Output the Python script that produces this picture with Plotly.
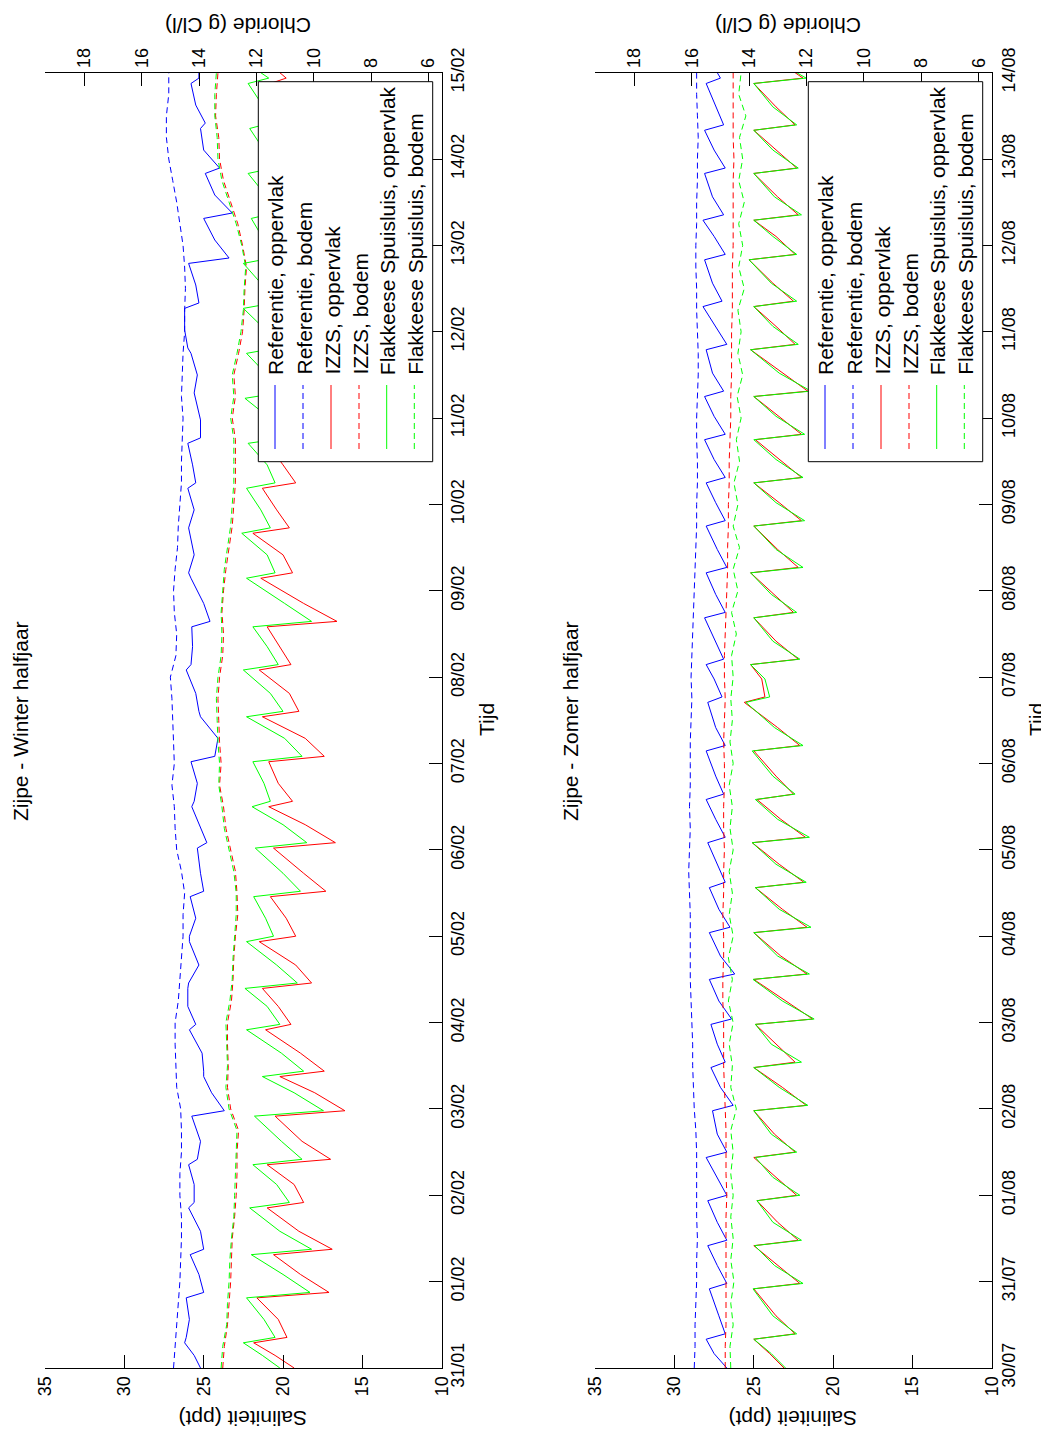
import pandas as pd
import plotly.graph_objects as go

# ---------------- DATA ----------------
w_start = "2010-01-31"
s_start = "2010-07-30"

# winter, surface series: hours since start
w_t_surf = [0, 3.5,
            7, 8.5, 13.5, 19.5, 21, 26, 31.5, 33, 38, 44.5, 46, 51, 56.5, 58, 63,
            70, 71.5, 76.5, 81, 82.5, 87.5, 94, 95.5, 100.5, 105.5, 107, 112,
            118.5, 120, 125, 131, 132.5, 137.5, 144.5, 146, 151, 156, 157.5, 162.5,
            168.5, 170, 175, 181, 182.5, 187.5, 194, 195.5, 200.5, 206, 207.5, 212.5,
            219.5, 221, 226, 232, 233.5, 238.5, 244.5, 246, 251, 257, 258.5, 263.5,
            269.5, 271, 276, 282, 283.5, 288.5, 294.5, 296, 301, 307, 308.5, 313.5,
            319.5, 321, 326, 332, 333.5, 338.5, 344.5, 346, 351, 357, 358.5, 360]
w_ref_opp = [25.2, 25.6,
             26.2, 26.1, 25.9, 26.1, 25.0, 25.3, 25.85, 25.0, 25.2, 25.95, 25.6, 25.6,
             25.95, 25.4, 25.2, 25.75, 23.7, 24.5, 25.0, 25.0, 25.1, 25.9, 25.5, 26.0,
             26.0, 25.95, 25.3, 25.9, 25.9, 25.5, 25.85, 25.0, 25.2, 25.4, 24.8, 25.3,
             25.75, 25.6, 25.4, 25.8, 24.3, 24.1, 25.2, 25.3, 25.5, 26.1, 25.8, 25.7,
             25.75, 24.6, 25.0, 25.8, 25.95, 25.6, 25.9, 25.95, 25.6, 26.0, 25.5, 25.7,
             26.0, 25.2, 25.2, 25.5, 25.6, 25.4, 25.8, 26.0, 26.2, 26.2, 25.3, 25.5,
             25.95, 23.4, 24.3, 25.0, 23.2, 24.3, 24.9, 24.0, 25.0, 25.2, 24.9, 25.5,
             25.8, 25.3, 25.3]
w_izzs_opp = [19.3, 20.5,
              21.85, 19.75, 20.3, 21.65, 17.1, 18.9, 20.6, 16.9, 19.0, 21.0, 18.7, 19.3,
              21.0, 17.0, 18.8, 20.5, 16.1, 18.0, 20.2, 17.4, 18.9, 21.1, 19.5, 20.3,
              21.3, 18.2, 19.2, 21.5, 19.2, 19.8, 20.8, 17.3, 18.7, 20.6, 16.7, 18.6,
              20.9, 19.4, 20.3, 20.9, 17.4, 18.6, 21.3, 19.0, 19.6, 21.5, 19.5, 20.2,
              21.0, 16.6, 18.7, 21.4, 19.4, 20.0, 21.9, 19.6, 20.4, 21.3, 19.2, 20.0,
              21.0, 18.5, 19.6, 21.3, 19.0, 19.9, 21.3, 19.2, 20.1, 21.4, 19.5, 20.3,
              21.5, 19.6, 20.2, 21.0, 19.5, 20.1, 21.2, 19.6, 20.2, 21.0, 19.8, 20.3,
              20.8, 19.8, 20.2]
w_flak_opp = [20.2, 21.3,
              22.5, 20.5, 21.2, 22.3, 18.3, 20.0, 22.0, 18.2, 20.2, 22.1, 19.6, 20.4,
              21.9, 18.8, 20.1, 21.8, 17.45, 19.3, 21.3, 18.7, 20.1, 22.3, 20.2, 21.0,
              22.4, 19.1, 20.4, 22.3, 20.6, 21.1, 21.85, 18.9, 20.0, 21.75, 18.5, 20.0,
              21.95, 20.8, 21.2, 21.9, 18.8, 19.9, 22.3, 20.0, 20.8, 22.5, 20.3, 21.0,
              21.9, 18.2, 19.9, 22.3, 20.5, 21.0, 22.6, 20.8, 21.4, 22.3, 20.5, 21.0,
              22.2, 19.8, 20.7, 22.4, 20.3, 21.0, 22.3, 20.4, 21.1, 22.5, 20.6, 21.3,
              22.5, 20.7, 21.2, 22.0, 20.5, 21.1, 22.2, 20.6, 21.2, 22.1, 20.8, 21.3,
              22.2, 20.9, 21.4]

# bottom series sampled every 6 hours (0 .. 360 h)
t_bod = [0, 6, 12, 18, 24, 30, 36, 42, 48, 54, 60, 66, 72, 78, 84, 90, 96, 102, 108,
         114, 120, 126, 132, 138, 144, 150, 156, 162, 168, 174, 180, 186, 192, 198,
         204, 210, 216, 222, 228, 234, 240, 246, 252, 258, 264, 270, 276, 282, 288,
         294, 300, 306, 312, 318, 324, 330, 336, 342, 348, 354, 360]
w_ref_bod = [26.9, 26.8, 26.7, 26.6, 26.5, 26.45, 26.4, 26.4, 26.5, 26.5, 26.4, 26.4,
             26.45, 26.7, 26.75, 26.8, 26.8, 26.6, 26.5, 26.4, 26.3, 26.3, 26.2, 26.4,
             26.7, 26.8, 26.85, 27.0, 26.85, 26.9, 26.95, 27.0, 27.1, 26.75, 26.7,
             26.85, 26.9, 26.8, 26.65, 26.6, 26.5, 26.4, 26.4, 26.35, 26.3, 26.4,
             26.35, 26.3, 26.2, 26.2, 26.15, 26.2, 26.3, 26.5, 26.7, 26.95, 27.2,
             27.35, 27.35, 27.2, 27.2]
w_izzs_bod = [23.8, 23.7, 23.5, 23.4, 23.3, 23.25, 23.2, 23.05, 22.95, 22.9, 22.9, 22.8,
              23.3, 23.5, 23.45, 23.5, 23.5, 23.25, 23.15, 23.1, 23.0, 22.85, 22.9, 23.0,
              23.3, 23.6, 23.75, 24.0, 23.9, 24.0, 24.05, 24.1, 24.0, 23.8, 23.75,
              23.85, 23.75, 23.6, 23.4, 23.2, 23.1, 23.0, 23.0, 23.0, 23.2, 23.0, 23.1,
              22.8, 22.55, 22.45, 22.4, 22.3, 22.55, 22.85, 23.3, 23.75, 24.0, 24.05,
              24.25, 24.2, 24.1]
w_flak_bod = [23.9, 23.8, 23.55, 23.5, 23.4, 23.35, 23.25, 23.1, 23.05, 23.0, 22.95, 22.9,
              23.4, 23.6, 23.5, 23.55, 23.6, 23.35, 23.2, 23.15, 23.05, 22.95, 22.95,
              23.1, 23.4, 23.7, 23.85, 24.05, 24.0, 24.1, 24.15, 24.2, 24.1, 23.9,
              23.85, 23.9, 23.8, 23.7, 23.5, 23.3, 23.2, 23.1, 23.1, 23.1, 23.3, 23.1,
              23.2, 22.9, 22.65, 22.5, 22.45, 22.35, 22.6, 22.95, 23.4, 23.85, 24.1,
              24.15, 24.3, 24.3, 24.2]

# summer, surface series: hours since start
s_t_surf = [0, 4,
            8, 9.5, 14.5, 22, 23.5, 28.5, 34, 35.5, 40.5, 46.5, 48, 53, 58.5, 60, 65,
            71.5, 73, 78, 83.5, 85, 90, 95.5, 97, 102, 108, 109.5, 114.5,
            121, 122.5, 127.5, 133.5, 135, 140, 146, 147.5, 152.5, 158, 159.5, 164.5,
            171.5, 173, 178, 185, 186.5, 191.5, 195.5, 197, 202, 208.5, 210, 215,
            221, 222.5, 227.5, 234, 235.5, 240.5, 246, 247.5, 252.5, 258, 259.5, 264.5,
            270, 271.5, 276.5, 283, 284.5, 289.5, 295, 296.5, 301.5, 308, 309.5, 314.5,
            319, 320.5, 325.5, 332, 333.5, 338.5, 344, 345.5, 350.5, 357, 358.5, 360]
s_ref_opp = [26.7, 27.5,
             28.0, 26.8, 27.2, 27.8, 26.7, 27.3, 27.9, 26.7, 27.3, 27.9, 26.7, 27.3,
             28.0, 26.7, 27.3, 27.6, 26.3, 27.1, 27.7, 26.8, 27.3, 27.7, 26.4, 27.2,
             27.8, 26.2, 27.1, 27.8, 26.5, 27.2, 27.8, 26.8, 27.3, 27.9, 26.8, 27.4,
             28.0, 26.9, 27.4, 28.0, 26.8, 27.4, 27.9, 27.0, 27.5, 28.0, 26.9, 27.4,
             28.1, 26.8, 27.4, 28.0, 26.7, 27.3, 28.0, 26.8, 27.4, 28.0, 26.8, 27.5,
             28.1, 26.8, 27.5, 28.1, 26.9, 27.6, 28.0, 26.7, 27.4, 28.2, 27.0, 27.6,
             28.1, 26.8, 27.5, 28.2, 26.9, 27.6, 28.1, 26.8, 27.5, 28.1, 26.9, 27.4,
             28.0, 27.1, 27.3]
s_izzs_opp = [23.1, 24.0,
              25.0, 22.4, 23.6, 25.0, 22.1, 23.5, 25.0, 22.2, 23.5, 24.8, 22.3, 23.6,
              25.0, 22.4, 23.7, 25.0, 21.7, 23.2, 25.0, 22.4, 23.6, 24.9, 21.3, 23.0,
              25.0, 21.65, 23.3, 25.0, 21.65, 23.2, 24.9, 21.85, 23.4, 25.1, 21.75, 23.3,
              24.8, 22.5, 23.6, 25.0, 22.1, 23.5, 25.6, 24.3, 24.5, 25.2, 22.2, 23.6,
              25.0, 22.5, 23.7, 25.2, 22.2, 23.5, 25.0, 22.0, 23.4, 25.0, 22.0, 23.4,
              24.9, 22.0, 23.4, 25.0, 21.6, 23.2, 25.2, 22.4, 23.6, 25.0, 22.5, 23.8,
              25.3, 22.4, 23.6, 25.0, 22.2, 23.5, 25.0, 22.3, 23.6, 25.0, 22.4, 23.6,
              25.0, 21.9, 22.4]
s_flak_opp = [23.0, 23.9,
              25.0, 22.3, 23.8, 25.05, 21.9, 23.7, 24.95, 22.0, 23.8, 24.8, 22.1, 23.8,
              24.9, 22.3, 23.9, 25.0, 21.6, 23.4, 25.0, 22.0, 23.9, 24.9, 21.2, 23.2,
              25.05, 21.5, 23.5, 25.0, 21.4, 23.4, 24.9, 21.7, 23.6, 25.1, 21.5, 23.5,
              24.9, 22.4, 23.8, 25.1, 21.9, 23.7, 25.5, 24.0, 24.3, 25.2, 22.1, 23.8,
              25.0, 22.3, 23.9, 25.2, 21.9, 23.6, 25.0, 21.8, 23.6, 25.0, 21.9, 23.6,
              25.0, 21.8, 23.6, 25.0, 21.4, 23.4, 25.2, 22.2, 23.8, 25.0, 22.3, 23.9,
              25.3, 22.3, 23.8, 25.0, 22.0, 23.7, 25.0, 22.2, 23.8, 25.0, 22.3, 23.8,
              25.0, 21.7, 22.3]
s_ref_bod = [28.75, 28.7, 28.7, 28.65, 28.6, 28.6, 28.55, 28.6, 28.6, 28.6, 28.6, 28.65,
             28.75, 28.8, 28.85, 28.85, 28.9, 28.95, 29.0, 29.0, 29.0, 29.0, 29.05, 29.1,
             29.05, 29.0, 29.05, 29.0, 29.0, 29.0, 28.95, 28.9, 28.95, 28.9, 28.85,
             28.8, 28.75, 28.7, 28.65, 28.6, 28.6, 28.55, 28.55, 28.6, 28.6, 28.55,
             28.5, 28.5, 28.55, 28.6, 28.6, 28.65, 28.65, 28.6, 28.6, 28.55, 28.55,
             28.5, 28.55, 28.6, 28.6]
s_izzs_bod = [26.8, 26.8, 26.75, 26.75, 26.75, 26.75, 26.75, 26.75, 26.7, 26.75, 26.75,
              26.75, 26.8, 26.85, 26.9, 26.9, 26.9, 26.95, 26.95, 26.9, 26.9, 26.95, 26.9,
              26.9, 26.85, 26.9, 26.9, 26.85, 26.85, 26.9, 26.85, 26.8, 26.85, 26.85,
              26.8, 26.75, 26.7, 26.65, 26.65, 26.6, 26.6, 26.55, 26.55, 26.5, 26.45,
              26.45, 26.4, 26.4, 26.4, 26.35, 26.35, 26.35, 26.3, 26.3, 26.3, 26.3,
              26.25, 26.3, 26.3, 26.3, 26.3]
s_flak_bod = [26.45, 26.5, 26.3, 26.45, 26.25, 26.45, 26.3, 26.45, 26.3, 26.45, 26.3,
              26.45, 26.1, 26.45, 26.35, 26.55, 26.3, 26.6, 26.35, 26.6, 26.3, 26.55,
              26.35, 26.55, 26.3, 26.5, 26.35, 26.55, 26.3, 26.5, 26.35, 26.45, 26.3,
              26.4, 26.1, 26.4, 26.0, 26.3, 25.9, 26.3, 26.0, 26.25, 25.9, 26.1, 25.8,
              26.05, 25.7, 26.0, 25.8, 26.0, 25.6, 25.95, 25.7, 25.95, 25.6, 25.95,
              25.7, 25.9, 25.5, 25.95, 25.8]

sal_ticks = [10, 15, 20, 25, 30, 35]
chl_ticks = [6, 8, 10, 12, 14, 16, 18]
sal_per_chl = 1.80655

legend_labels = ["Referentie, oppervlak", "Referentie, bodem", "IZZS, oppervlak",
                 "IZZS, bodem", "Flakkeese Spuisluis, oppervlak", "Flakkeese Spuisluis, bodem"]
series_colors = ["#0000ff", "#0000ff", "#ff0000", "#ff0000", "#00ff00", "#00ff00"]
series_dash = ["solid", "6px,4px", "solid", "6px,4px", "solid", "6px,4px"]

# ---------------- FIGURE ----------------
W, H = 1049, 1431
PAGE_OFF = 8  # default body margin of the html page
FONT = "Liberation Sans, Arial, sans-serif"


def px_x(p):
    return (p - PAGE_OFF) / W


def px_y(p):
    return 1 - (p - PAGE_OFF) / H


def times(start, hours):
    return pd.Timestamp(start) + pd.to_timedelta(hours, unit="h")


fig = go.Figure()

panels = [
    dict(start=w_start, xa="x", ya="y",
         series=[(w_t_surf, w_ref_opp), (t_bod, w_ref_bod), (w_t_surf, w_izzs_opp),
                 (t_bod, w_izzs_bod), (w_t_surf, w_flak_opp), (t_bod, w_flak_bod)]),
    dict(start=s_start, xa="x3", ya="y2",
         series=[(s_t_surf, s_ref_opp), (t_bod, s_ref_bod), (s_t_surf, s_izzs_opp),
                 (t_bod, s_izzs_bod), (s_t_surf, s_flak_opp), (t_bod, s_flak_bod)]),
]

for p in panels:
    for (tt, vals), col, dash, name in zip(p["series"], series_colors, series_dash, legend_labels):
        fig.add_trace(go.Scatter(x=vals, y=times(p["start"], tt), mode="lines",
                                 line=dict(color=col, width=1, dash=dash),
                                 name=name, showlegend=False, hoverinfo="skip",
                                 xaxis=p["xa"], yaxis=p["ya"]))

# empty traces so the chloride axes are drawn
fig.add_trace(go.Scatter(x=[], y=[], xaxis="x2", yaxis="y", showlegend=False))
fig.add_trace(go.Scatter(x=[], y=[], xaxis="x4", yaxis="y2", showlegend=False))

tickfont = dict(family=FONT, size=18, color="black")
common = dict(ticks="inside", ticklen=13, tickwidth=1, tickcolor="black",
              showline=True, linecolor="black", linewidth=1, mirror=False,
              showgrid=False, zeroline=False, tickangle=-90, tickfont=tickfont,
              automargin=False)

ydom = [px_y(1368), px_y(72.7)]
xdom1 = [px_x(45), px_x(441.7)]
xdom2 = [px_x(595), px_x(992)]

fig.update_layout(
    template="none",
    width=W, height=H, margin=dict(l=0, r=0, t=0, b=0, autoexpand=False),
    paper_bgcolor="white", plot_bgcolor="white", showlegend=False,
    font=dict(family=FONT, color="black"),
    xaxis=dict(domain=xdom1, anchor="y", range=[35, 10], tickmode="array",
               tickvals=sal_ticks, side="bottom", **common),
    xaxis2=dict(overlaying="x", anchor="y", side="top",
                range=[35 / sal_per_chl, 10 / sal_per_chl], tickmode="array",
                tickvals=chl_ticks, **common),
    yaxis=dict(domain=ydom, anchor="x", side="right", type="date",
               range=[w_start, "2010-02-15"], tickformat="%d/%m",
               dtick=86400000, tick0=w_start, **common),
    xaxis3=dict(domain=xdom2, anchor="y2", range=[35, 10], tickmode="array",
                tickvals=sal_ticks, side="bottom", **common),
    xaxis4=dict(overlaying="x3", anchor="y2", side="top",
                range=[35 / sal_per_chl, 10 / sal_per_chl], tickmode="array",
                tickvals=chl_ticks, **common),
    yaxis2=dict(domain=ydom, anchor="x3", side="right", type="date",
                range=[s_start, "2010-08-14"], tickformat="%d/%m",
                dtick=86400000, tick0=s_start, **common),
)

labfont = dict(family=FONT, size=21, color="black")
annots = []
shapes = []
titles = ["Zijpe - Winter halfjaar", "Zijpe - Zomer halfjaar"]
offsets = [0, 550]
for title, off in zip(titles, offsets):
    annots.append(dict(text=title, x=px_x(20 + off), y=px_y(721), xref="paper", yref="paper",
                       textangle=-90, showarrow=False, font=labfont,
                       xanchor="center", yanchor="middle"))
    annots.append(dict(text="Tijd", x=px_x(487 + off), y=px_y(720), xref="paper", yref="paper",
                       textangle=-90, showarrow=False, font=labfont,
                       xanchor="center", yanchor="middle"))
    annots.append(dict(text="Saliniteit (ppt)", x=px_x(243 + off), y=px_y(1419),
                       xref="paper", yref="paper", textangle=180, showarrow=False,
                       font=labfont, xanchor="center", yanchor="middle"))
    annots.append(dict(text="Chloride (g Cl/l)", x=px_x(238 + off), y=px_y(25),
                       xref="paper", yref="paper", textangle=180, showarrow=False,
                       font=labfont, xanchor="center", yanchor="middle"))
    # legend box
    shapes.append(dict(type="rect", xref="paper", yref="paper", layer="above",
                       x0=px_x(258.3 + off), x1=px_x(432.7 + off),
                       y0=px_y(461.7), y1=px_y(81.7),
                       fillcolor="white", line=dict(color="black", width=1)))
    cols = [275, 303, 331, 359, 386.7, 414.3]
    for cx, lab, col, dash in zip(cols, legend_labels, series_colors, series_dash):
        shapes.append(dict(type="line", xref="paper", yref="paper", layer="above",
                           x0=px_x(cx + off), x1=px_x(cx + off),
                           y0=px_y(449), y1=px_y(385),
                           line=dict(color=col, width=1, dash=dash)))
        annots.append(dict(text=lab, x=px_x(cx + 1 + off), y=px_y(377),
                           xref="paper", yref="paper", textangle=-90, showarrow=False,
                           font=labfont, xanchor="center", yanchor="bottom"))

fig.update_layout(annotations=annots, shapes=shapes)
fig.write_html("out.html")
